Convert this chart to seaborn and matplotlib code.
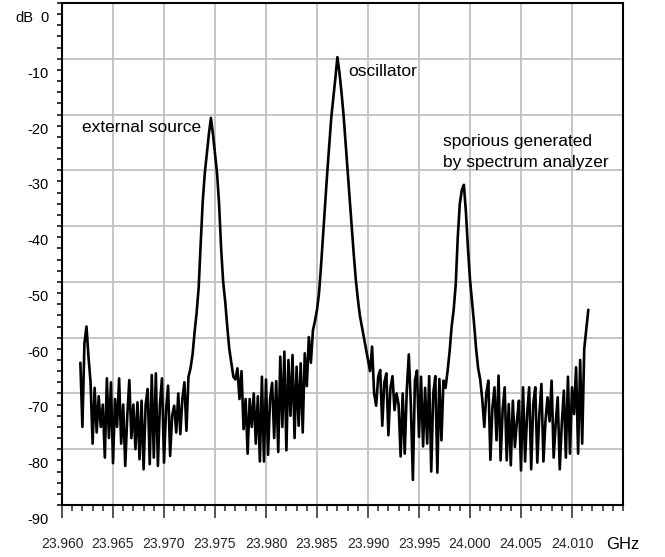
import numpy as np
import pandas as pd
import matplotlib
matplotlib.use("Agg")
import matplotlib.pyplot as plt
import seaborn as sns
from matplotlib.ticker import MultipleLocator
from matplotlib.transforms import offset_copy

# ---------------- data ----------------
sweep_start_ghz = 23.9618
sweep_stop_ghz = 24.0116

level_db = [
    -64.5, -76, -61, -58, -63.5, -68, -79, -69, -77, -70.5,
    -76, -72, -81.5, -67.3, -78, -68, -82.5, -71, -76, -67.3,
    -79, -72, -83, -74, -67.6, -78, -72, -80, -71.6, -81.8,
    -71.3, -83.6, -72, -69.2, -82.7, -66.7, -81.5, -66.4, -83, -72,
    -67.3, -82.4, -73, -68.6, -81.2, -74, -72.2, -77, -70, -77.3,
    -71, -68, -76.7, -67, -65.5, -63, -59, -55.5, -51, -43,
    -35.5, -30.5, -27, -23.5, -20.6, -23.5, -27, -30.5, -36, -44,
    -50, -53.5, -58, -62, -64.5, -67, -67.5, -65.5, -71, -66,
    -76.4, -71, -80.8, -71, -76, -70, -79, -70.5, -82.2, -67,
    -82.2, -67.5, -81, -71, -68.1, -78, -67.8, -80.5, -63.4, -76,
    -62.5, -80.2, -64, -74, -63.1, -78, -65.2, -75.8, -64.6, -77,
    -62.8, -68.7, -59.9, -64.5, -58.7, -57, -55, -52, -47, -41.5,
    -36, -30.5, -25.5, -20.5, -17, -13.5, -9.7, -12.5, -16, -20,
    -25, -30, -35, -40, -45, -49.5, -53, -56, -58, -60,
    -62, -64, -66, -61.6, -70, -72.2, -67, -65.8, -75.8, -68,
    -66.4, -77.5, -69, -66.9, -73, -70, -72, -81.3, -70, -80.8,
    -69.5, -63, -72, -85.5, -67.7, -65.9, -77.8, -67, -79.5, -69,
    -79, -66.9, -84, -70, -66.9, -84.2, -67.4, -78.4, -67.7, -69,
    -66, -62.5, -58, -55, -50.5, -42, -36, -33.5, -32.6, -37.5,
    -44, -49.6, -53.5, -57.5, -62, -65.5, -67.5, -71, -76, -70,
    -67.7, -81.9, -72.5, -68.9, -78.4, -66.8, -82, -73, -68.9, -82,
    -71.9, -82.9, -71.3, -79.6, -74.9, -71.3, -83.8, -68.9, -82.2, -73.7,
    -68.9, -83.6, -71.9, -68.9, -82.4, -73.7, -68.3, -82.2, -74.9, -70.7,
    -75, -67.7, -81.5, -75.4, -70.7, -83.6, -75.4, -69.5, -81.5, -67,
    -80.8, -68.9, -73.7, -65.3, -80.8, -64, -79, -62, -58.5, -55,
]
freq_ghz = np.linspace(sweep_start_ghz, sweep_stop_ghz, len(level_db))

x_ticks = [23.960, 23.965, 23.970, 23.975, 23.980, 23.985,
           23.990, 23.995, 24.000, 24.005, 24.010]
x_tick_labels = ["23.960", "23.965", "23.970", "23.975", "23.980", "23.985",
                 "23.990", "23.995", "24.000", "24.005", "24.010"]
y_ticks = [0, -10, -20, -30, -40, -50, -60, -70, -80, -90]
y_tick_labels = ["0", "-10", "-20", "-30", "-40", "-50", "-60", "-70", "-80", "-90"]

annotation_texts = ["external source", "oscillator",
                    "sporious generated", "by spectrum analyzer"]
annotation_x = [23.96196, 23.98804, 23.99735, 23.99735]
annotation_y = [-23.2, -13.1, -25.6, -29.35]

# ---------------- drawing ----------------
sns.set_style("white")
plt.rcParams["font.family"] = ["Liberation Sans", "DejaVu Sans"]

W, H = 665, 557
fig = plt.figure(figsize=(W / 100, H / 100), dpi=100)
ax = fig.add_axes([62 / W, 1 - 505 / H, (623 - 62) / W, (505 - 3) / H])

df = pd.DataFrame({"freq": freq_ghz, "level": level_db})
sns.lineplot(data=df, x="freq", y="level", ax=ax, color="black",
             linewidth=1.9, estimator=None, sort=False, zorder=3)

ax.set_xlim(23.960, 24.015)
ax.set_ylim(-90, 0)
ax.set_xlabel("")
ax.set_ylabel("")

ax.set_xticks(x_ticks)
ax.set_xticklabels(x_tick_labels)
ax.xaxis.set_minor_locator(MultipleLocator(0.001))
ax.set_yticks(y_ticks)
ax.set_yticklabels([""] * len(y_ticks))
ax.yaxis.set_minor_locator(MultipleLocator(2))

ax.grid(True, which="major", color="#c0c0c0", linewidth=1.3)

for sp in ax.spines.values():
    sp.set_color("black")
    sp.set_linewidth(1.5)

ax.tick_params(axis="x", which="major", direction="out", length=9, width=1.1,
               bottom=True, labelsize=10, pad=14)
ax.tick_params(axis="x", which="minor", direction="out", length=4.5, width=1.1,
               bottom=True)
ax.tick_params(axis="y", which="both", direction="out", length=3.5, width=1.3,
               left=True)

# y labels sit just below their tick, as in the reference
ytrans = offset_copy(ax.get_yaxis_transform(), fig=fig, x=-13, y=-15, units="dots")
for v, lab in zip(y_ticks, y_tick_labels):
    ax.text(0, v, lab, transform=ytrans, ha="right", va="center", fontsize=10.5,
            color="black", clip_on=False)
dbtrans = offset_copy(ax.get_yaxis_transform(), fig=fig, x=-29, y=-15, units="dots")
ax.text(0, 0, "dB", transform=dbtrans, ha="right", va="center", fontsize=10.5,
        color="black", clip_on=False)

# unit label at the right end of the frequency axis
gtrans = offset_copy(ax.get_xaxis_transform(), fig=fig, x=0, y=-32, units="dots")
ax.text(24.015, 0, "GHz", transform=gtrans, ha="center", va="top", fontsize=12,
        color="black", clip_on=False)

for t, x, y in zip(annotation_texts, annotation_x, annotation_y):
    ax.text(x, y, t, ha="left", va="baseline", fontsize=12.5, color="black", zorder=4)

fig.savefig("out.png", dpi=100)
